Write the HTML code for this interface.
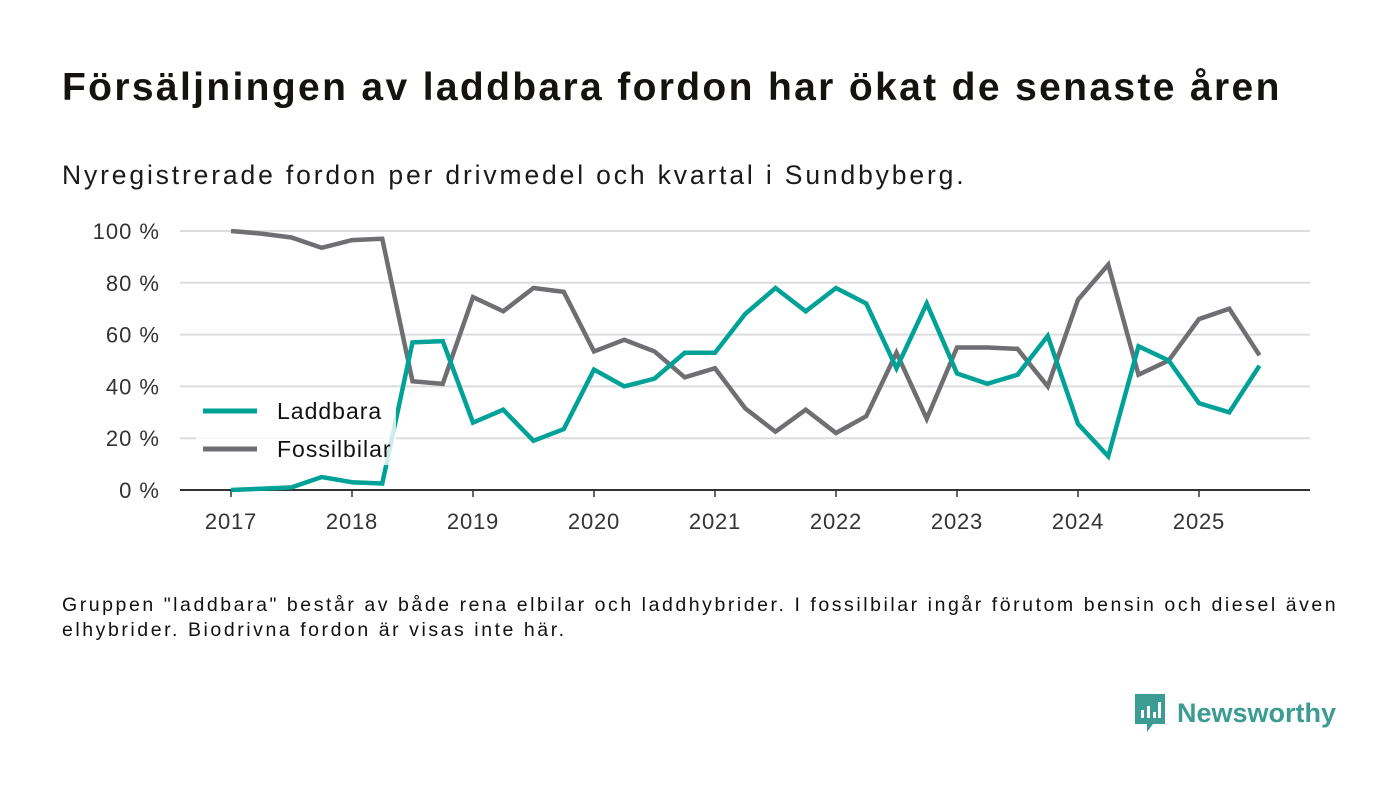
<!DOCTYPE html>
<html><head><meta charset="utf-8"><style>
body{margin:0;background:#fff;width:1400px;height:793px;overflow:hidden;font-family:"Liberation Sans","DejaVu Sans",sans-serif;color:#111}
.t{position:absolute;left:62px;top:66px;font-size:39px;font-weight:bold;color:#14130f;letter-spacing:2.35px;white-space:nowrap}
.s{position:absolute;left:62px;top:160px;font-size:26.5px;color:#1a1a1a;letter-spacing:2.85px;white-space:nowrap}
.n{position:absolute;left:62px;top:593px;font-size:19.5px;line-height:25px;color:#111;width:1330px;letter-spacing:2.55px;white-space:nowrap}
</style></head><body>
<div class="t">Försäljningen av laddbara fordon har ökat de senaste åren</div>
<div class="s">Nyregistrerade fordon per drivmedel och kvartal i Sundbyberg.</div>
<svg id="c" width="1400" height="793" style="position:absolute;left:0;top:0"></svg>
<div class="n">Gruppen "laddbara" består av både rena elbilar och laddhybrider. I fossilbilar ingår förutom bensin och diesel även<br>elhybrider. Biodrivna fordon är visas inte här.</div>
<div style="position:absolute;left:1133px;top:692px;display:flex;align-items:center">
<svg width="34" height="42" viewBox="0 0 34 42"><path d="M2 2h30v30H20l-6 8v-8H2z" fill="#3c9b93"/><rect x="8" y="18" width="3" height="8" fill="#fff"/><rect x="14" y="14" width="3" height="12" fill="#fff"/><rect x="20" y="20" width="3" height="6" fill="#fff"/><rect x="25" y="10" width="3" height="16" fill="#fff"/></svg>
<span style="font-size:27px;font-weight:bold;color:#3c9b93;margin-left:10px">Newsworthy</span></div>
<script>
const years=[2017,2018,2019,2020,2021,2022,2023,2024,2025];
const yTicks=[0,20,40,60,80,100];
const laddbara=[0,0.5,1,5,3,2.5,57,57.5,26,31,19,23.5,46.5,40,43,53,53,68,78,69,78,72,47,72,45,41,44.5,59.5,25.5,13,55.5,50,33.5,30,48];
const fossil=[100,99,97.5,93.5,96.5,97,42,41,74.5,69,78,76.5,53.5,58,53.5,43.5,47,31.5,22.5,31,22,28.5,53,27.5,55,55,54.5,40,73.5,87,44.5,50,66,70,52];
const svg=document.getElementById('c');const NS='http://www.w3.org/2000/svg';
function X(t){return 231+(t-2017)*121;}
function Y(v){return 490-v*2.59;}
function mk(tag,a,p){const e=document.createElementNS(NS,tag);for(const k in a)e.setAttribute(k,a[k]);(p||svg).appendChild(e);return e;}
yTicks.forEach(v=>{
 if(v>0){const g=mk('line',{x1:180,x2:1310,y1:Y(v),y2:Y(v),stroke:'#ddd','stroke-width':2});
 
 }
 const t=mk('text',{x:160,y:Y(v)+8,'text-anchor':'end','font-size':22,fill:'#333','letter-spacing':1});t.textContent=v+' %';
 
 
});
const ax=mk('line',{x1:180,x2:1310,y1:490,y2:490,stroke:'#333','stroke-width':2});


years.forEach(y=>{
 mk('line',{x1:X(y),x2:X(y),y1:490,y2:497,stroke:'#333','stroke-width':1.5});
 const t=mk('text',{x:X(y),y:529,'text-anchor':'middle','font-size':22,fill:'#333','letter-spacing':0.8});t.textContent=y;
 
 
});
function line(data,col,name){
 const pts=data.map((v,i)=>X(2017+i/4)+','+Y(v)).join(' ');
 const p=mk('polyline',{points:pts,fill:'none',stroke:col,'stroke-width':4.5,'stroke-linejoin':'miter'});
 
 
}
line(fossil,'#6f6e73','fossilbilar-line');
line(laddbara,'#00a298','laddbara-line');
const bg=mk('rect',{x:196,y:395,width:200,height:70,fill:'#fff',opacity:0.8});


[['Laddbara','#00a298',411],['Fossilbilar','#6f6e73',449]].forEach(([n,c,y])=>{
 const g=mk('g',{});
 
 
 mk('line',{x1:203,x2:257,y1:y,y2:y,stroke:c,'stroke-width':5},g);
 const t=mk('text',{x:277,y:y+8,'font-size':23,fill:'#111','letter-spacing':1},g);t.textContent=n;
});
</script>
</body></html>
